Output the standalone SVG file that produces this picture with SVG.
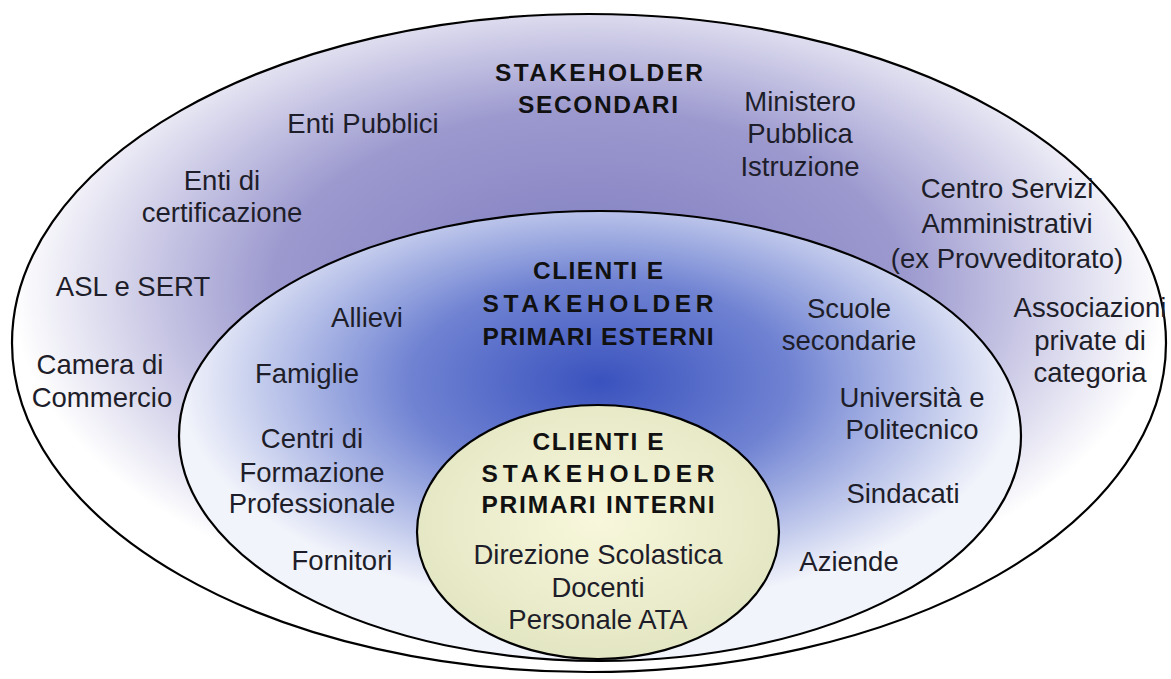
<svg xmlns="http://www.w3.org/2000/svg" width="1171" height="679" viewBox="0 0 1171 679">
  <defs>
    <radialGradient id="gOuter" cx="0.5" cy="0.42" r="0.5">
      <stop offset="0" stop-color="#7d7bbf"/>
      <stop offset="0.55" stop-color="#9c99cf"/>
      <stop offset="1" stop-color="#ffffff"/>
    </radialGradient>
    <radialGradient id="gMiddle" cx="0.5" cy="0.38" r="0.5">
      <stop offset="0" stop-color="#3a52be"/>
      <stop offset="0.45" stop-color="#6f82d2"/>
      <stop offset="1" stop-color="#f2f4fb"/>
    </radialGradient>
    <radialGradient id="gInner" cx="0.5" cy="0.45" r="0.55">
      <stop offset="0" stop-color="#f8f7dc"/>
      <stop offset="1" stop-color="#e3e6c2"/>
    </radialGradient>
  </defs>
  <style>
    .ring { stroke: #000; stroke-width: 2.2; }
    .t { font-family: "Liberation Sans", Arial, sans-serif; font-size: 27.5px; fill: #1e1e2a; text-anchor: middle; }
    .b { font-family: "Liberation Sans", Arial, sans-serif; font-size: 24.5px; font-weight: bold; fill: #111; text-anchor: middle; }
  </style>

  <g id="secondari">
    <ellipse class="ring" cx="589" cy="343" rx="577" ry="329" fill="url(#gOuter)"/>
    <text class="b" x="599" y="81" textLength="208" lengthAdjust="spacing">STAKEHOLDER</text>
    <text class="b" x="598" y="113" textLength="160" lengthAdjust="spacing">SECONDARI</text>
    <text class="t" x="363" y="133">Enti Pubblici</text>
    <text class="t"><tspan x="800" y="111">Ministero</tspan><tspan x="800" y="143">Pubblica</tspan><tspan x="800" y="176">Istruzione</tspan></text>
    <text class="t"><tspan x="222" y="190">Enti di</tspan><tspan x="222" y="222">certificazione</tspan></text>
    <text class="t"><tspan x="1007" y="198">Centro Servizi</tspan><tspan x="1007" y="233">Amministrativi</tspan><tspan x="1007" y="268">(ex Provveditorato)</tspan></text>
    <text class="t" x="133" y="296">ASL e SERT</text>
    <text class="t"><tspan x="1090" y="317">Associazioni</tspan><tspan x="1090" y="350">private di</tspan><tspan x="1090" y="382">categoria</tspan></text>
    <text class="t"><tspan x="100" y="374">Camera di</tspan><tspan x="102" y="407">Commercio</tspan></text>
  </g>

  <g id="primari-esterni">
    <ellipse class="ring" cx="600" cy="436" rx="421" ry="225" fill="url(#gMiddle)"/>
    <text class="b" x="598" y="279" textLength="130" lengthAdjust="spacing">CLIENTI E</text>
    <text class="b" x="598" y="312" textLength="231" lengthAdjust="spacing">STAKEHOLDER</text>
    <text class="b" x="598" y="345" textLength="231" lengthAdjust="spacing">PRIMARI ESTERNI</text>
    <text class="t" x="367" y="327">Allievi</text>
    <text class="t"><tspan x="849" y="318">Scuole</tspan><tspan x="849" y="350">secondarie</tspan></text>
    <text class="t" x="307" y="383">Famiglie</text>
    <text class="t"><tspan x="912" y="407">Università e</tspan><tspan x="912" y="439">Politecnico</tspan></text>
    <text class="t"><tspan x="312" y="448">Centri di</tspan><tspan x="312" y="482">Formazione</tspan><tspan x="312" y="513">Professionale</tspan></text>
    <text class="t" x="903" y="503">Sindacati</text>
    <text class="t" x="342" y="570">Fornitori</text>
    <text class="t" x="849" y="571">Aziende</text>
  </g>

  <g id="primari-interni">
    <ellipse class="ring" cx="598" cy="532" rx="181" ry="127" fill="url(#gInner)"/>
    <text class="b" x="598" y="450" textLength="131" lengthAdjust="spacing">CLIENTI E</text>
    <text class="b" x="598" y="482" textLength="233" lengthAdjust="spacing">STAKEHOLDER</text>
    <text class="b" x="598" y="513" textLength="233" lengthAdjust="spacing">PRIMARI INTERNI</text>
    <text class="t"><tspan x="598" y="564">Direzione Scolastica</tspan><tspan x="598" y="597">Docenti</tspan><tspan x="598" y="629">Personale ATA</tspan></text>
  </g>

  <g id="connectors"/>
</svg>
